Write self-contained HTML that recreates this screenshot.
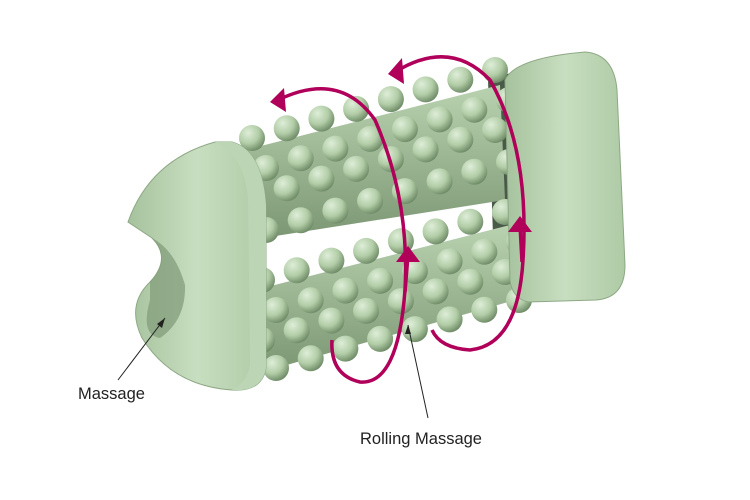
<!DOCTYPE html>
<html><head><meta charset="utf-8"><style>
html,body{margin:0;padding:0;background:#fff;}
svg{display:block;}
text{font-family:"Liberation Sans",sans-serif;font-size:16.5px;fill:#222;}
</style></head><body>
<svg width="750" height="500" viewBox="0 0 750 500" xmlns="http://www.w3.org/2000/svg">
<defs>
<radialGradient id="b" cx="0.35" cy="0.3" r="0.75">
<stop offset="0" stop-color="#deeed8"/><stop offset="0.55" stop-color="#b2cda7"/><stop offset="1" stop-color="#6a8763"/>
</radialGradient>
<linearGradient id="cap" x1="0" y1="0" x2="1" y2="0">
<stop offset="0" stop-color="#a6c29d"/><stop offset="0.5" stop-color="#c8dec0"/><stop offset="1" stop-color="#aecaa5"/>
</linearGradient>
<linearGradient id="cyl" x1="0" y1="0" x2="0" y2="1">
<stop offset="0" stop-color="#b9d2b0"/><stop offset="1" stop-color="#7b9673"/>
</linearGradient>
</defs>
<path d="M488,80 L520,70 L528,300 L495,300 Z" fill="#4a5a48"/>
<path d="M245,150 L500,85 L505,200 L250,240 Z" fill="url(#cyl)"/>
<path d="M255,290 L510,225 L515,300 L262,372 Z" fill="url(#cyl)"/>
<g id="bumps"></g>
<path d="M128,222 Q150,160 215,142 L232,142 Q262,150 266,205 L266,368 Q262,392 232,390 Q172,386 142,338 Q126,305 150,282 Q172,258 152,238 Z" fill="url(#cap)" stroke="#8ea885" stroke-width="1"/>
<path d="M150,282 Q172,258 152,238 Q175,250 185,285 Q186,320 160,338 Q140,335 150,300 Z" fill="#7f9a77" opacity="0.7"/>
<path d="M215,142 L232,142 Q262,150 266,205 L266,368 Q262,392 232,390 Q250,380 250,360 L248,200 Q245,155 215,142Z" fill="#bcd5b4"/>
<path d="M505,80 Q515,58 585,52 Q614,54 617,90 L625,265 Q625,298 596,300 L528,302 Q512,298 510,280 Z" fill="url(#cap)" stroke="#8ea885"/>
<g fill="none" stroke="#b0005a" stroke-width="3.5">
<path d="M278,100 Q340,70 375,120 Q410,200 405,290 Q398,385 360,382 Q330,375 332,340"/>
<path d="M408,255 L405,292"/>
<path d="M395,72 Q450,38 490,80 Q530,150 523,260 Q518,345 470,350 Q440,348 432,330"/>
<path d="M520,225 L522,262"/>
</g>
<g fill="#b0005a">
<polygon points="270,102 284,88 286,112"/>
<polygon points="388,74 402,58 404,84"/>
<polygon points="408,246 396,262 420,262"/>
<polygon points="520,216 508,232 532,232"/>
</g>
<line x1="118" y1="380" x2="165" y2="318" stroke="#222"/>
<polygon points="165,318 157,324 162,328" fill="#222"/>
<text x="78" y="399">Massage</text>
<line x1="428" y1="418" x2="408" y2="325" stroke="#222"/>
<polygon points="408,325 405,334 411,334" fill="#222"/>
<text x="360" y="444">Rolling Massage</text>
</svg>
<script>
var g=document.getElementById('bumps'),s='';
function roller(x0,y0,x1,y1,rows){
 var n=8;
 for(var i=0;i<n;i++){var t=i/(n-1);var cx=x0+(x1-x0)*t,cy=y0+(y1-y0)*t;
  for(var j=0;j<rows.length;j++){var dx=(j%2?14:0);
   s+='<circle cx="'+(cx+dx).toFixed(1)+'" cy="'+(cy+rows[j]).toFixed(1)+'" r="13" fill="url(#b)"/>';}}
}
roller(252,190,495,122,[-52,-22,8,40]);
roller(262,330,505,262,[-50,-20,10,38]);
g.innerHTML=s;
</script>
</body></html>
